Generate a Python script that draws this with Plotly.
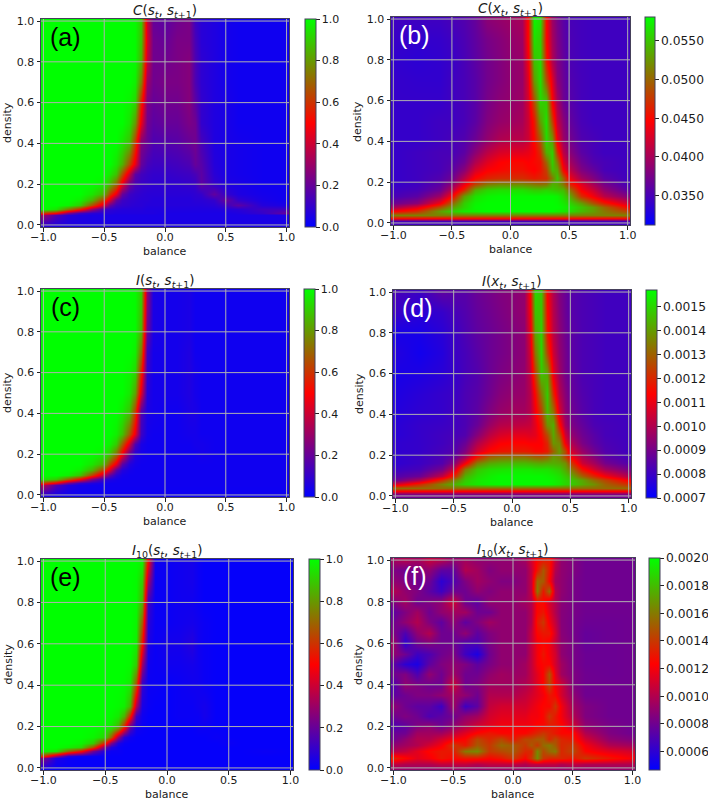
import plotly.graph_objects as go

W, H = 708, 802
# Grid of the three sharp-boundary panels (a, c, e)
x_s = [-1,-.9,-.8,-.7,-.6,-.5,-.45,-.4,-.35,-.3,-.25,-.2,-.15,-.1,0,.1,.2,.25,.3,.4,.5,.6,.8,1]
y_s = [-.01,.05,.06,.08,.10,.12,.15,.20,.25,.30,.40,.50,.60,.70,.80,.90,1.0]
# Values in hundredths
C_ss = [
[5,5,5,5,5,5,5,5,5,5,5,5,5,5,5,5,5,5,5,5,5,5,5,5],
[30,15,8,6,5,5,5,5,5,5,5,5,5,5,5,5,5,5,5,5,5,5,5,5],
[60,50,25,12,8,7,7,6,6,6,6,6,6,6,5,5,5,5,5,5,5,6,10,20],
[100,95,75,55,30,12,9,8,7,7,7,7,6,6,6,6,6,6,6,6,7,8,12,12],
[100,100,98,90,65,40,20,12,10,9,8,8,7,7,7,7,7,7,7,8,12,18,7,5],
[100,100,100,97,85,60,40,20,12,10,9,8,8,7,7,7,7,8,8,10,20,10,5,3],
[100,100,100,100,95,85,60,45,20,12,10,9,8,8,8,8,8,9,10,19,10,6,4,3],
[100,100,100,100,100,97,85,70,45,22,14,11,10,9,9,9,10,11,18,10,6,5,3,3],
[100,100,100,100,100,100,95,88,65,40,18,13,11,10,10,11,12,14,18,8,5,4,3,3],
[100,100,100,100,100,100,100,95,85,65,45,20,14,12,12,13,15,20,17,7,5,4,3,3],
[100,100,100,100,100,100,100,100,95,88,60,25,20,15,16,17,20,22,14,6,5,4,3,3],
[100,100,100,100,100,100,100,100,100,95,80,45,22,18,20,20,24,22,10,6,5,3,3,3],
[100,100,100,100,100,100,100,100,100,98,92,55,24,20,22,22,26,18,10,6,5,3,3,3],
[100,100,100,100,100,100,100,100,100,100,97,75,30,22,24,24,26,15,9,6,4,3,3,3],
[100,100,100,100,100,100,100,100,100,100,99,85,38,22,22,24,26,15,9,6,4,3,3,3],
[100,100,100,100,100,100,100,100,100,100,99,88,42,22,20,24,24,14,8,6,4,3,3,3],
[100,100,100,100,100,100,100,100,100,100,99,90,40,20,18,22,24,12,8,6,4,3,3,3],
]
I_ss = [
[2,2,2,2,2,2,2,2,2,2,2,2,2,2,2,2,2,2,2,2,2,2,2,2],
[35,15,7,4,3,3,3,3,3,3,3,3,3,3,3,3,3,3,3,3,3,3,3,3],
[60,45,22,10,6,4,3,3,3,3,3,3,3,3,3,3,3,3,3,3,3,3,3,3],
[95,90,70,50,25,10,6,4,3,3,3,3,3,3,3,3,3,3,3,3,3,3,3,3],
[100,100,97,88,62,35,18,8,4,3,3,3,3,3,3,3,3,3,3,3,3,3,3,3],
[100,100,100,97,85,60,40,18,7,4,3,3,3,3,3,3,3,3,3,3,3,3,3,3],
[100,100,100,100,95,85,62,45,18,7,4,3,3,3,3,3,3,3,3,3,3,3,3,3],
[100,100,100,100,100,97,88,72,48,20,7,4,3,3,3,3,3,3,4,3,3,3,3,3],
[100,100,100,100,100,100,97,90,68,42,15,5,3,3,3,3,3,4,4,3,3,3,3,3],
[100,100,100,100,100,100,100,97,88,68,45,12,4,3,3,3,4,4,3,3,3,3,3,3],
[100,100,100,100,100,100,100,100,96,88,60,15,5,4,3,3,5,5,3,3,3,3,3,3],
[100,100,100,100,100,100,100,100,100,96,82,42,7,4,4,4,6,4,3,3,3,3,3,3],
[100,100,100,100,100,100,100,100,100,98,92,55,9,4,4,4,6,4,3,3,3,3,3,3],
[100,100,100,100,100,100,100,100,100,100,97,72,12,4,4,4,6,3,3,3,3,3,3,3],
[100,100,100,100,100,100,100,100,100,100,99,85,20,5,4,4,5,3,3,3,3,3,3,3],
[100,100,100,100,100,100,100,100,100,100,99,88,25,5,4,4,5,3,3,3,3,3,3,3],
[100,100,100,100,100,100,100,100,100,100,99,90,28,5,4,4,5,3,3,3,3,3,3,3],
]
I10_ss = [
[1,1,1,1,1,1,1,1,1,1,1,1,1,1,1,1,1,1,1,1,1,1,1,1],
[25,5,2,1,1,1,1,1,1,1,1,1,1,1,1,1,1,1,1,1,1,1,1,1],
[60,30,8,3,2,1,1,1,1,1,1,1,1,1,1,1,1,1,1,1,1,1,1,1],
[98,95,70,52,22,5,2,2,1,1,1,1,1,1,1,1,1,1,1,1,1,1,2,1],
[100,100,97,92,65,22,7,2,1,1,1,1,1,1,1,1,1,1,1,1,1,1,1,1],
[100,100,100,98,90,55,25,6,2,1,1,1,1,1,1,1,1,1,1,1,2,1,1,1],
[100,100,100,100,98,92,68,30,8,3,1,1,1,1,1,1,1,1,1,2,1,1,1,1],
[100,100,100,100,100,98,96,85,55,18,4,2,1,1,1,1,1,2,2,1,1,1,1,1],
[100,100,100,100,100,100,99,96,85,55,12,3,1,1,1,2,2,2,4,1,1,1,1,1],
[100,100,100,100,100,100,100,99,97,85,35,5,2,1,1,2,2,3,4,1,1,1,1,1],
[100,100,100,100,100,100,100,100,99,96,65,10,2,2,1,2,3,3,2,1,1,1,1,1],
[100,100,100,100,100,100,100,100,100,99,90,30,3,2,3,3,4,3,2,1,1,1,1,1],
[100,100,100,100,100,100,100,100,100,100,97,52,5,2,4,4,7,3,2,1,1,1,1,1],
[100,100,100,100,100,100,100,100,100,100,98,68,8,2,2,3,4,3,2,1,1,1,1,1],
[100,100,100,100,100,100,100,100,100,100,99,85,12,2,2,3,3,2,1,1,1,1,1,1],
[100,100,100,100,100,100,100,100,100,100,99,90,30,2,2,3,4,2,1,1,1,1,1,1],
[100,100,100,100,100,100,100,100,100,100,100,98,50,3,2,3,4,2,1,1,1,1,1,1],
]

# Grid of panels b and d
x_x = [-1,-.8,-.6,-.5,-.4,-.3,-.2,-.1,0,.1,.15,.2,.25,.3,.35,.4,.45,.5,.6,.7,.8,1]
y_x = [-.01,.01,.025,.04,.06,.08,.10,.13,.16,.19,.22,.26,.30,.35,.40,.50,.60,.70,.80,.90,1.0]
# Values in units of 1e-4
C_xs = [
[345,345,345,345,345,345,345,345,345,345,345,345,345,345,345,345,345,345,345,345,345,345],
[350,350,350,350,350,350,350,350,350,350,350,350,350,350,350,350,350,350,350,350,350,350],
[455,455,455,455,455,455,455,455,455,455,455,455,455,455,455,455,455,455,455,455,455,455],
[515,515,515,515,515,515,515,515,515,515,515,515,515,515,515,515,515,515,515,515,515,515],
[445,470,530,555,570,575,580,580,580,580,580,580,580,580,580,575,570,565,545,530,510,480],
[400,430,490,530,560,578,580,580,580,580,580,580,580,580,580,580,575,570,550,530,500,450],
[370,385,440,500,555,575,580,580,580,580,580,580,580,580,580,578,570,560,530,490,460,420],
[350,360,395,445,530,565,575,578,578,578,578,578,578,578,578,575,560,540,470,440,410,380],
[345,350,370,410,470,540,560,565,565,565,560,555,555,560,555,550,545,510,445,420,390,360],
[340,345,360,385,435,480,510,520,520,520,515,510,505,510,540,535,510,465,430,400,375,350],
[340,345,355,370,410,450,465,470,470,470,465,460,465,470,510,550,500,440,400,380,360,345],
[340,345,350,360,385,425,445,450,455,455,450,445,455,480,545,535,450,415,380,365,350,345],
[340,345,350,355,370,405,430,445,450,450,445,450,455,500,555,510,430,400,370,355,350,345],
[340,345,350,350,360,385,410,425,430,430,435,445,470,540,555,470,410,385,360,350,345,345],
[340,340,345,350,355,370,390,405,410,410,420,450,490,560,530,440,395,375,355,350,345,345],
[340,340,345,345,350,360,380,390,395,400,420,460,530,565,480,415,385,365,350,345,345,345],
[340,340,340,345,350,358,375,385,390,395,425,490,560,550,445,400,370,358,348,345,345,345],
[340,338,338,345,350,358,372,380,388,392,430,530,565,490,430,385,368,355,348,345,345,345],
[338,335,338,342,350,360,372,380,388,392,440,550,560,460,405,380,365,352,347,345,345,345],
[342,338,340,345,352,362,375,382,390,395,450,565,555,450,400,378,362,352,347,345,345,345],
[345,345,345,350,355,365,385,390,395,400,450,575,565,450,395,375,360,350,347,345,345,345],
]
# Values in units of 1e-6
I_xs = [
[880,880,880,880,880,880,880,880,880,880,880,880,880,880,880,880,880,880,880,880,880,880],
[920,920,920,920,920,920,920,920,920,920,920,920,920,920,920,920,920,920,920,920,920,920],
[1130,1130,1130,1130,1130,1130,1130,1130,1130,1130,1130,1130,1130,1130,1130,1130,1130,1130,1130,1130,1130,1130],
[1320,1320,1320,1320,1320,1320,1320,1320,1320,1320,1320,1320,1320,1320,1320,1320,1320,1320,1320,1320,1320,1320],
[1060,1200,1360,1440,1500,1530,1550,1560,1560,1560,1560,1560,1560,1560,1550,1530,1500,1490,1430,1380,1300,1210],
[880,1000,1220,1360,1480,1530,1550,1560,1560,1560,1560,1560,1560,1560,1550,1530,1500,1480,1420,1320,1250,1120],
[840,880,1030,1200,1440,1510,1540,1560,1560,1560,1560,1560,1560,1550,1540,1520,1480,1440,1300,1200,1120,1000],
[800,820,900,1040,1340,1470,1510,1520,1530,1530,1530,1520,1520,1520,1500,1480,1420,1350,1160,1060,980,900],
[780,800,840,930,1120,1350,1420,1440,1450,1450,1440,1430,1420,1430,1430,1420,1380,1250,1050,980,900,840],
[780,800,830,870,980,1180,1300,1330,1340,1340,1320,1300,1290,1320,1400,1370,1260,1140,1000,930,860,820],
[780,790,820,840,920,1060,1140,1170,1180,1180,1170,1150,1150,1180,1300,1400,1260,1070,960,890,840,810],
[780,790,810,830,880,1000,1080,1130,1140,1140,1130,1130,1130,1200,1390,1370,1110,1010,910,860,830,810],
[770,790,810,820,840,930,1020,1070,1090,1090,1080,1090,1150,1260,1420,1290,1050,960,890,850,820,810],
[770,790,800,810,830,880,960,1010,1020,1030,1040,1090,1180,1380,1430,1170,980,920,870,830,820,810],
[760,780,790,810,830,860,920,960,980,980,1010,1110,1230,1450,1350,1080,950,900,850,820,810,810],
[750,770,790,800,830,850,890,930,950,960,1010,1150,1340,1480,1200,1010,930,880,840,820,810,810],
[740,750,770,790,820,840,880,910,930,950,1030,1240,1470,1420,1100,970,900,870,830,820,810,810],
[760,730,760,800,820,850,880,900,920,940,1060,1340,1500,1250,1050,950,900,860,830,820,810,810],
[740,740,770,800,830,860,880,900,920,940,1090,1420,1490,1170,1020,940,890,860,830,820,810,810],
[800,770,790,820,840,870,890,910,930,950,1120,1470,1470,1150,1010,930,880,850,830,820,810,810],
[820,800,860,850,850,880,900,920,930,950,1140,1500,1470,1130,1000,920,880,850,830,820,810,810],
]

# Grid of panel f
x_f = [-1,-.9,-.8,-.7,-.6,-.5,-.4,-.3,-.2,-.1,0,.1,.15,.2,.25,.3,.35,.4,.5,.6,.8,1]
y_f = [-.01,.02,.05,.08,.11,.14,.17,.20,.25,.30,.35,.40,.45,.50,.55,.60,.65,.70,.75,.80,.85,.90,.95,1.0]
# Values in units of 1e-6
I10_xs = [
[900,900,900,900,900,900,900,900,900,900,900,900,900,900,900,900,900,900,900,900,900,900],
[1050,1000,1000,1000,1050,1050,1050,1000,1050,1050,1050,1000,1050,1050,1050,1050,1050,1000,1050,1000,1000,1000],
[1350,1250,1150,1200,1300,1250,1300,1300,1250,1300,1400,1250,1400,1650,1400,1350,1350,1350,1300,1400,1300,1200],
[1000,1050,1150,1250,1300,1300,1600,1650,1400,1450,1500,1350,1350,1650,1450,1550,1600,1350,1450,1250,1150,1100],
[900,950,1000,1100,1200,1400,1300,1500,1400,1550,1500,1400,1500,1400,1550,1600,1500,1350,1400,1200,1000,950],
[800,900,1000,1000,1100,1200,1250,1450,1350,1450,1300,1450,1450,1500,1500,1350,1450,1350,1300,1100,900,850],
[780,800,950,950,950,1050,1150,1250,1300,1250,1250,1250,1300,1350,1400,1350,1300,1250,1250,1000,850,800],
[700,750,850,900,800,900,1000,1100,1150,1200,1200,1200,1200,1250,1250,1300,1300,1250,1100,900,830,800],
[800,850,800,700,750,800,900,950,1100,1150,1150,1150,1200,1200,1250,1400,1300,1200,1000,850,800,800],
[900,800,750,750,650,950,650,750,1050,1100,1100,1100,1150,1200,1250,1250,1400,1200,950,850,800,800],
[750,800,850,850,900,950,900,800,1000,1000,1000,1050,1100,1150,1200,1300,1250,1100,900,800,800,800],
[700,900,850,800,800,1100,800,850,950,950,950,1000,1050,1150,1250,1450,1200,1100,850,800,800,800],
[800,850,700,900,800,950,800,800,900,950,930,950,1050,1150,1250,1500,1150,950,850,800,790,800],
[750,600,550,750,850,900,850,750,830,900,900,950,1050,1200,1250,1250,1100,950,830,790,790,800],
[900,800,650,700,800,850,650,550,800,900,900,900,1050,1200,1300,1200,1100,900,830,790,790,800],
[950,600,800,850,800,800,700,700,830,900,900,900,1050,1200,1250,1200,1050,900,830,770,790,800],
[850,700,900,1000,800,800,900,750,850,900,900,900,1050,1250,1300,1300,1100,880,820,770,790,800],
[800,900,1000,850,750,900,750,850,950,900,900,900,1000,1300,1400,1200,1050,870,820,790,790,800],
[750,850,950,800,900,950,950,800,800,900,900,900,1000,1250,1300,1150,1000,870,830,800,800,800],
[850,950,800,850,900,1100,800,750,900,900,900,950,1000,1250,1250,1100,1000,880,830,800,800,800],
[1000,900,850,750,650,800,800,900,850,900,900,900,1050,1600,1300,1550,1000,900,830,800,800,800],
[900,850,800,800,600,700,850,950,900,850,850,900,1050,1550,1500,1250,950,900,830,800,800,800],
[850,800,850,900,750,750,1000,950,850,900,900,900,1050,1300,1500,1300,1000,900,850,800,800,800],
[950,1000,950,1050,1000,900,950,900,900,900,900,950,1100,1250,1300,1300,1050,900,850,800,800,800],
]

axis_ticks = [-1.0, -0.5, 0.0, 0.5, 1.0]
density_ticks = [0.0, 0.2, 0.4, 0.6, 0.8, 1.0]
unit_cb_ticks = [0.0, 0.2, 0.4, 0.6, 0.8, 1.0]
b_cb_ticks = [0.035, 0.040, 0.045, 0.050, 0.055]
d_cb_ticks = [0.0007, 0.0008, 0.0009, 0.0010, 0.0011, 0.0012, 0.0013, 0.0014, 0.0015]
f_cb_ticks = [0.0006, 0.0008, 0.0010, 0.0012, 0.0014, 0.0016, 0.0018, 0.0020]

def i(s): return f"<i>{s}</i>"
titles = {
 "a": f"{i('C')}({i('s')}<sub>{i('t')}</sub>, {i('s')}<sub>{i('t')}+1</sub>)",
 "b": f"{i('C')}({i('x')}<sub>{i('t')}</sub>, {i('s')}<sub>{i('t')}+1</sub>)",
 "c": f"{i('I')}({i('s')}<sub>{i('t')}</sub>, {i('s')}<sub>{i('t')}+1</sub>)",
 "d": f"{i('I')}({i('x')}<sub>{i('t')}</sub>, {i('s')}<sub>{i('t')}+1</sub>)",
 "e": f"{i('I')}<sub>10</sub>({i('s')}<sub>{i('t')}</sub>, {i('s')}<sub>{i('t')}+1</sub>)",
 "f": f"{i('I')}<sub>10</sub>({i('x')}<sub>{i('t')}</sub>, {i('s')}<sub>{i('t')}+1</sub>)",
}

COLORSCALE = [[0, "#0000ff"], [0.5, "#ff0000"], [1, "#00ff00"]]
FONT = "DejaVu Sans"
FRAME = "#45405a"

panels = [
 # key, z, scale, x, y, px box (l,r,t,b), colorbar (l,r), zrange, cb ticks, cb fmt, label colour, cb font
 ("a", C_ss, 1e-2, x_s, y_s, (41, 289, 19, 227), (305, 316), (0, 1), unit_cb_ticks, ".1f", "black", 11),
 ("b", C_xs, 1e-4, x_x, y_x, (391, 630, 17, 225), (645, 655), (0.0312, 0.0581), b_cb_ticks, ".4f", "white", 12.3),
 ("c", I_ss, 1e-2, x_s, y_s, (41, 289, 289, 497), (304, 315), (0, 1), unit_cb_ticks, ".1f", "black", 11),
 ("d", I_xs, 1e-6, x_x, y_x, (393, 631, 290, 498), (646, 657), (0.0007, 0.00157), d_cb_ticks, ".4f", "white", 12.3),
 ("e", I10_ss, 1e-2, x_s, y_s, (41, 293, 559, 770), (309, 320), (0, 1), unit_cb_ticks, ".1f", "black", 11),
 ("f", I10_xs, 1e-6, x_f, y_f, (391, 635, 558, 770), (649, 660), (0.000467, 0.002), f_cb_ticks, ".4f", "white", 12.3),
]

fig = go.Figure()
annotations, shapes, layout = [], [], {}
for n, (key, z, scale, xs, ys, (l, r, t, b), (cl, cr), (zmin, zmax), cbt, fmt, lc, cbf) in enumerate(panels, 1):
    suffix = "" if n == 1 else str(n)
    xa, ya = f"x{suffix}", f"y{suffix}"
    fig.add_trace(go.Heatmap(
        z=[[v * scale for v in row] for row in z], x=xs, y=ys, xaxis=xa, yaxis=ya,
        zmin=zmin, zmax=zmax, colorscale=COLORSCALE, zsmooth="best",
        hoverinfo="skip",
        colorbar=dict(
            x=cl / W, xanchor="left", xpad=0, y=1 - t / H, yanchor="top", ypad=0,
            len=(b - t) / H, lenmode="fraction", thickness=cr - cl, thicknessmode="pixels",
            outlinewidth=1, outlinecolor=FRAME, tickmode="array", tickvals=cbt, tickformat=fmt,
            ticks="outside", ticklen=3.5, tickwidth=1, tickcolor="#222",
            tickfont=dict(family=FONT, size=cbf, color="#1a1a1a"),
        ),
    ))
    layout[f"xaxis{suffix}"] = dict(
        domain=[l / W, r / W], range=[-1.02, 1.02], anchor=ya, tickmode="array", tickvals=axis_ticks,
        tickformat=".1f", showgrid=False, zeroline=False, showline=True, mirror=True,
        linecolor=FRAME, linewidth=1, ticks="outside", ticklen=3.5, tickcolor="#222", ticklabelstandoff=-4,
        tickfont=dict(family=FONT, size=11, color="#1a1a1a"),
    )
    layout[f"yaxis{suffix}"] = dict(
        domain=[1 - b / H, 1 - t / H], range=[-0.01, 1.01], anchor=xa, tickmode="array",
        tickvals=density_ticks, tickformat=".1f", showgrid=False, zeroline=False, showline=True,
        mirror=True, linecolor=FRAME, linewidth=1, ticks="outside", ticklen=3.5, tickcolor="#222",
        tickfont=dict(family=FONT, size=11, color="#1a1a1a"),
    )
    for tv in axis_ticks:
        shapes.append(dict(type="line", xref=xa, yref=f"{ya} domain", x0=tv, x1=tv, y0=0, y1=1,
                           line=dict(color="#b0b0b0", width=1), layer="above"))
    for tv in density_ticks:
        shapes.append(dict(type="line", xref=f"{xa} domain", yref=ya, x0=0, x1=1, y0=tv, y1=tv,
                           line=dict(color="#b0b0b0", width=1), layer="above"))
    mid = (l + r) / 2
    annotations += [
        dict(text=titles[key], x=mid / W, y=1 - (t - 8) / H, xref="paper", yref="paper",
             xanchor="center", yanchor="middle", showarrow=False, font=dict(family=FONT, size=13.5, color="#1a1a1a")),
        dict(text="balance", x=mid / W, y=1 - (b + 24) / H, xref="paper", yref="paper",
             xanchor="center", yanchor="middle", showarrow=False, font=dict(family=FONT, size=11, color="#1a1a1a")),
        dict(text="density", x=(l - 33) / W, y=1 - ((t + b) / 2) / H, xref="paper", yref="paper", textangle=-90,
             xanchor="center", yanchor="middle", showarrow=False, font=dict(family=FONT, size=11, color="#1a1a1a")),
        dict(text=f"({key})", x=(l + 24) / W, y=1 - (t + 18) / H, xref="paper", yref="paper",
             xanchor="center", yanchor="middle", showarrow=False, font=dict(family="Liberation Sans", size=25, color=lc)),
    ]

fig.update_layout(width=W, height=H, margin=dict(l=0, r=0, t=0, b=0, autoexpand=False), showlegend=False,
                  paper_bgcolor="white", plot_bgcolor="#2a10e0", annotations=annotations, shapes=shapes, **layout)
fig.write_html("out.html", config={"displayModeBar": False},
               post_script="document.body.style.margin='0';document.documentElement.style.overflow='hidden';")
